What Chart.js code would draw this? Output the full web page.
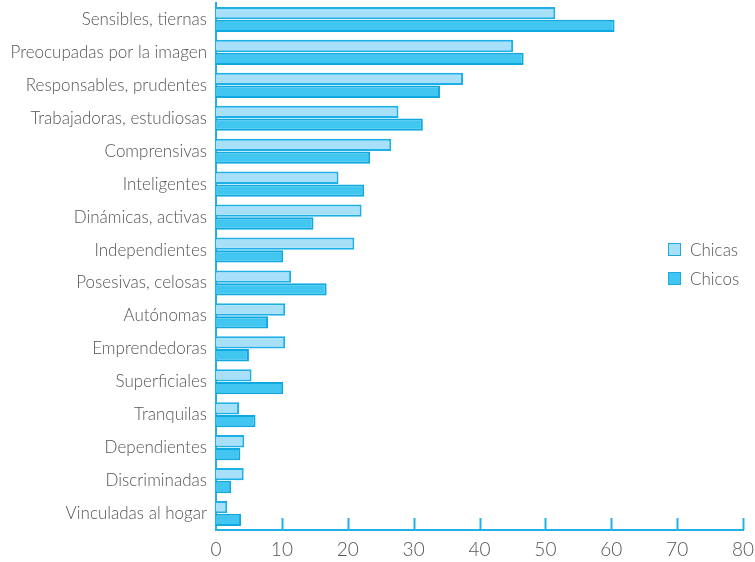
<!DOCTYPE html>
<html>
<head>
<meta charset="utf-8">
<script src="https://cdn.jsdelivr.net/npm/chart.js@4/dist/chart.umd.min.js"></script>
<style>
  html, body { margin: 0; padding: 0; background: #fff; }
  #wrap { position: relative; width: 755px; height: 562px; }
  #legend { position: absolute; left: 668px; top: 235px; font-family: Lato, "Open Sans", sans-serif; font-weight: 300; font-size: 17px; color: #555; }
  #legend div { display: flex; align-items: center; height: 29px; }
  #legend span.box { display: inline-block; width: 13px; height: 13px; margin-right: 9px; box-sizing: border-box; border: 1.5px solid #1aa9e0; }
</style>
</head>
<body>
<div id="wrap">
  <canvas id="chart" width="755" height="562"></canvas>
  <div id="legend"></div>
</div>
<script>
// Rasgos atribuidos a las chicas, según chicas y chicos (%)
const categories = [
  'Sensibles, tiernas', 'Preocupadas por la imagen', 'Responsables, prudentes',
  'Trabajadoras, estudiosas', 'Comprensivas', 'Inteligentes', 'Dinámicas, activas',
  'Independientes', 'Posesivas, celosas', 'Autónomas', 'Emprendedoras',
  'Superficiales', 'Tranquilas', 'Dependientes', 'Discriminadas', 'Vinculadas al hogar'
];
const chicas = [51.5, 45.1, 37.5, 27.7, 26.6, 18.6, 22.1, 21.0, 11.4, 10.5, 10.5, 5.4, 3.5, 4.3, 4.2, 1.7];
const chicos = [60.5, 46.7, 34.0, 31.4, 23.4, 22.5, 14.8, 10.2, 16.8, 7.9, 5.0, 10.2, 6.0, 3.7, 2.3, 3.8];
const xTicks = [0, 10, 20, 30, 40, 50, 60, 70, 80];

const axisColor = '#22b1e6';
const font = 'Lato, "Open Sans", sans-serif';

// short upward tick marks on the x axis
const innerTicks = {
  id: 'innerTicks',
  afterDraw(chart) {
    const { ctx, scales: { x }, chartArea } = chart;
    ctx.save();
    ctx.strokeStyle = axisColor;
    ctx.lineWidth = 2;
    xTicks.slice(1).forEach((v) => {
      const px = Math.round(x.getPixelForValue(v)) + 0.5;
      ctx.beginPath();
      ctx.moveTo(px, chartArea.bottom);
      ctx.lineTo(px, chartArea.bottom - 12);
      ctx.stroke();
    });
    ctx.restore();
  }
};

const chart = new Chart(document.getElementById('chart'), {
  type: 'bar',
  data: {
    labels: categories,
    datasets: [
      { label: 'Chicas', data: chicas, backgroundColor: '#a9e0f9', borderColor: '#1db0e8', borderWidth: 2, categoryPercentage: 0.78, barPercentage: 0.96 },
      { label: 'Chicos', data: chicos, backgroundColor: '#41c6f2', borderColor: '#0fa9e2', borderWidth: 2, categoryPercentage: 0.78, barPercentage: 0.96 }
    ]
  },
  options: {
    indexAxis: 'y',
    responsive: false,
    animation: false,
    layout: { padding: { top: 3, right: 12 } },
    scales: {
      x: {
        min: 0, max: 80,
        afterBuildTicks: (s) => { s.ticks = xTicks.map((v) => ({ value: v })); },
        afterFit: (s) => { s.height = 32; s.paddingLeft = 0; s.paddingRight = 0; },
        grid: { display: false, drawTicks: false },
        border: { color: axisColor, width: 2 },
        ticks: { color: '#555', padding: 8, font: { family: font, size: 19, weight: 300 } }
      },
      y: {
        afterFit: (s) => { s.width = 216; s.paddingTop = 0; s.paddingBottom = 0; },
        grid: { display: false, drawTicks: false },
        border: { color: axisColor, width: 2 },
        ticks: { color: '#555', padding: 9, font: { family: font, size: 17, weight: 300 } }
      }
    },
    plugins: { legend: { display: false }, tooltip: { enabled: false } }
  },
  plugins: [innerTicks]
});

document.getElementById('legend').innerHTML = chart.data.datasets
  .map((d) => `<div><span class="box" style="background:${d.backgroundColor}"></span>${d.label}</div>`)
  .join('');
</script>
</body>
</html>
